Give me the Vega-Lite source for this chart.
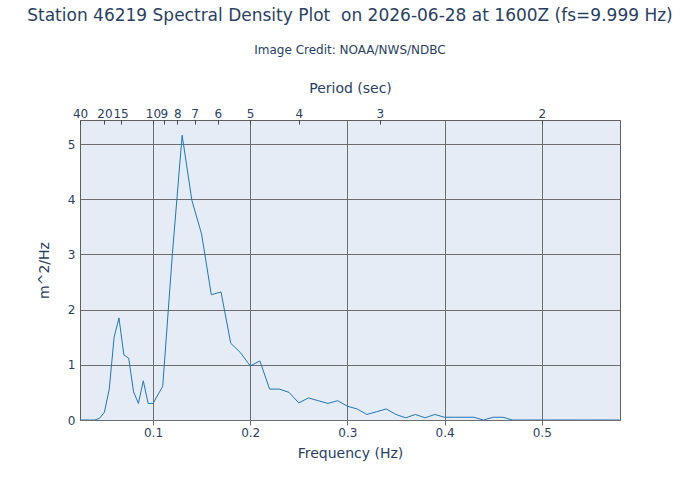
{
  "$schema": "https://vega.github.io/schema/vega-lite/v6.json",
  "width": 540,
  "height": 300,
  "autosize": {"type": "none"},
  "padding": {"left": 80, "top": 120, "right": 80, "bottom": 80},
  "background": "white",
  "title": {
    "text": "Station 46219 Spectral Density Plot \u00a0on 2026-06-28 at 1600Z (fs=9.999 Hz)",
    "subtitle": "Image Credit: NOAA/NWS/NDBC",
    "anchor": "middle",
    "frame": "group",
    "font": "DejaVu Sans",
    "fontSize": 17,
    "fontWeight": "normal",
    "color": "#2a3f5f",
    "subtitleFont": "DejaVu Sans",
    "subtitleFontSize": 12,
    "subtitleColor": "#2a3f5f",
    "subtitlePadding": 20,
    "offset": 24
  },
  "config": {
    "font": "DejaVu Sans",
    "view": {"fill": "#E5ECF6", "stroke": "#5f5f5f", "strokeWidth": 1},
    "axis": {
      "labelFont": "DejaVu Sans",
      "titleFont": "DejaVu Sans",
      "labelColor": "#2a3f5f",
      "titleColor": "#2a3f5f",
      "labelFontSize": 12,
      "titleFontSize": 14,
      "titleFontWeight": "normal",
      "domain": false,
      "gridColor": "#6e6e6e",
      "gridWidth": 1,
      "gridOpacity": 1
    }
  },
  "datasets": {
    "spectrum": [
      {"freq": 0.025, "density": 0},
      {"freq": 0.03, "density": 0},
      {"freq": 0.035, "density": 0},
      {"freq": 0.04, "density": 0},
      {"freq": 0.045, "density": 0.03},
      {"freq": 0.05, "density": 0.14},
      {"freq": 0.055, "density": 0.56},
      {"freq": 0.06, "density": 1.5},
      {"freq": 0.065, "density": 1.85},
      {"freq": 0.07, "density": 1.18},
      {"freq": 0.075, "density": 1.12},
      {"freq": 0.08, "density": 0.51},
      {"freq": 0.085, "density": 0.3},
      {"freq": 0.09, "density": 0.71},
      {"freq": 0.095, "density": 0.3},
      {"freq": 0.1, "density": 0.3},
      {"freq": 0.11, "density": 0.61},
      {"freq": 0.12, "density": 3.02},
      {"freq": 0.13, "density": 5.16},
      {"freq": 0.14, "density": 3.98},
      {"freq": 0.15, "density": 3.37},
      {"freq": 0.16, "density": 2.27},
      {"freq": 0.17, "density": 2.32},
      {"freq": 0.18, "density": 1.39},
      {"freq": 0.19, "density": 1.22},
      {"freq": 0.2, "density": 0.98},
      {"freq": 0.21, "density": 1.07},
      {"freq": 0.22, "density": 0.56},
      {"freq": 0.23, "density": 0.56},
      {"freq": 0.24, "density": 0.5},
      {"freq": 0.25, "density": 0.31},
      {"freq": 0.26, "density": 0.4},
      {"freq": 0.27, "density": 0.35},
      {"freq": 0.28, "density": 0.3},
      {"freq": 0.29, "density": 0.35},
      {"freq": 0.3, "density": 0.25},
      {"freq": 0.31, "density": 0.2},
      {"freq": 0.32, "density": 0.1},
      {"freq": 0.33, "density": 0.15},
      {"freq": 0.34, "density": 0.2},
      {"freq": 0.35, "density": 0.1},
      {"freq": 0.36, "density": 0.04},
      {"freq": 0.37, "density": 0.1},
      {"freq": 0.38, "density": 0.04},
      {"freq": 0.39, "density": 0.1},
      {"freq": 0.4, "density": 0.05},
      {"freq": 0.41, "density": 0.05},
      {"freq": 0.42, "density": 0.05},
      {"freq": 0.43, "density": 0.05},
      {"freq": 0.44, "density": 0},
      {"freq": 0.45, "density": 0.05},
      {"freq": 0.46, "density": 0.05},
      {"freq": 0.47, "density": 0},
      {"freq": 0.48, "density": 0},
      {"freq": 0.49, "density": 0},
      {"freq": 0.5, "density": 0},
      {"freq": 0.51, "density": 0},
      {"freq": 0.52, "density": 0},
      {"freq": 0.53, "density": 0},
      {"freq": 0.54, "density": 0},
      {"freq": 0.55, "density": 0},
      {"freq": 0.56, "density": 0},
      {"freq": 0.57, "density": 0},
      {"freq": 0.58, "density": 0}
    ]
  },
  "data": {"name": "spectrum"},
  "layer": [
    {
      "mark": {"type": "line", "color": "#1f77b4", "strokeWidth": 1, "clip": true},
      "encoding": {
        "x": {
          "field": "freq",
          "type": "quantitative",
          "scale": {"domain": [0.0249, 0.5805], "nice": false, "zero": false},
          "axis": {
            "orient": "bottom",
            "title": "Frequency (Hz)",
            "values": [0.1, 0.2, 0.3, 0.4, 0.5],
            "format": ".1f",
            "ticks": true,
            "tickSize": 5,
            "tickColor": "#6e6e6e",
            "labelPadding": 2,
            "titlePadding": 8,
            "grid": true,
            "labelFlush": false
          }
        },
        "y": {
          "field": "density",
          "type": "quantitative",
          "scale": {"domain": [0, 5.436], "nice": false},
          "axis": {
            "title": "m^2/Hz",
            "values": [0, 1, 2, 3, 4, 5],
            "format": "d",
            "ticks": false,
            "labelPadding": 5,
            "titlePadding": 16,
            "grid": true,
            "labelFlush": false
          }
        }
      }
    },
    {
      "mark": {"type": "line", "opacity": 0},
      "encoding": {
        "x": {
          "field": "freq",
          "type": "quantitative",
          "scale": {"domain": [0.0249, 0.5805], "nice": false, "zero": false},
          "axis": {
            "orient": "top",
            "title": "Period (sec)",
            "values": [0.025, 0.05, 0.0666667, 0.1, 0.1111111, 0.125, 0.1428571, 0.1666667, 0.2, 0.25, 0.3333333, 0.5],
            "labelExpr": "round(1 / datum.value)",
            "labelOverlap": false,
            "labelFlush": false,
            "labelBound": false,
            "offset": -4,
            "ticks": true,
            "tickSize": 4,
            "tickColor": "#444444",
            "labelPadding": 0,
            "titlePadding": 12,
            "grid": false
          }
        },
        "y": {"field": "density", "type": "quantitative"}
      }
    }
  ],
  "resolve": {"scale": {"x": "independent"}}
}
